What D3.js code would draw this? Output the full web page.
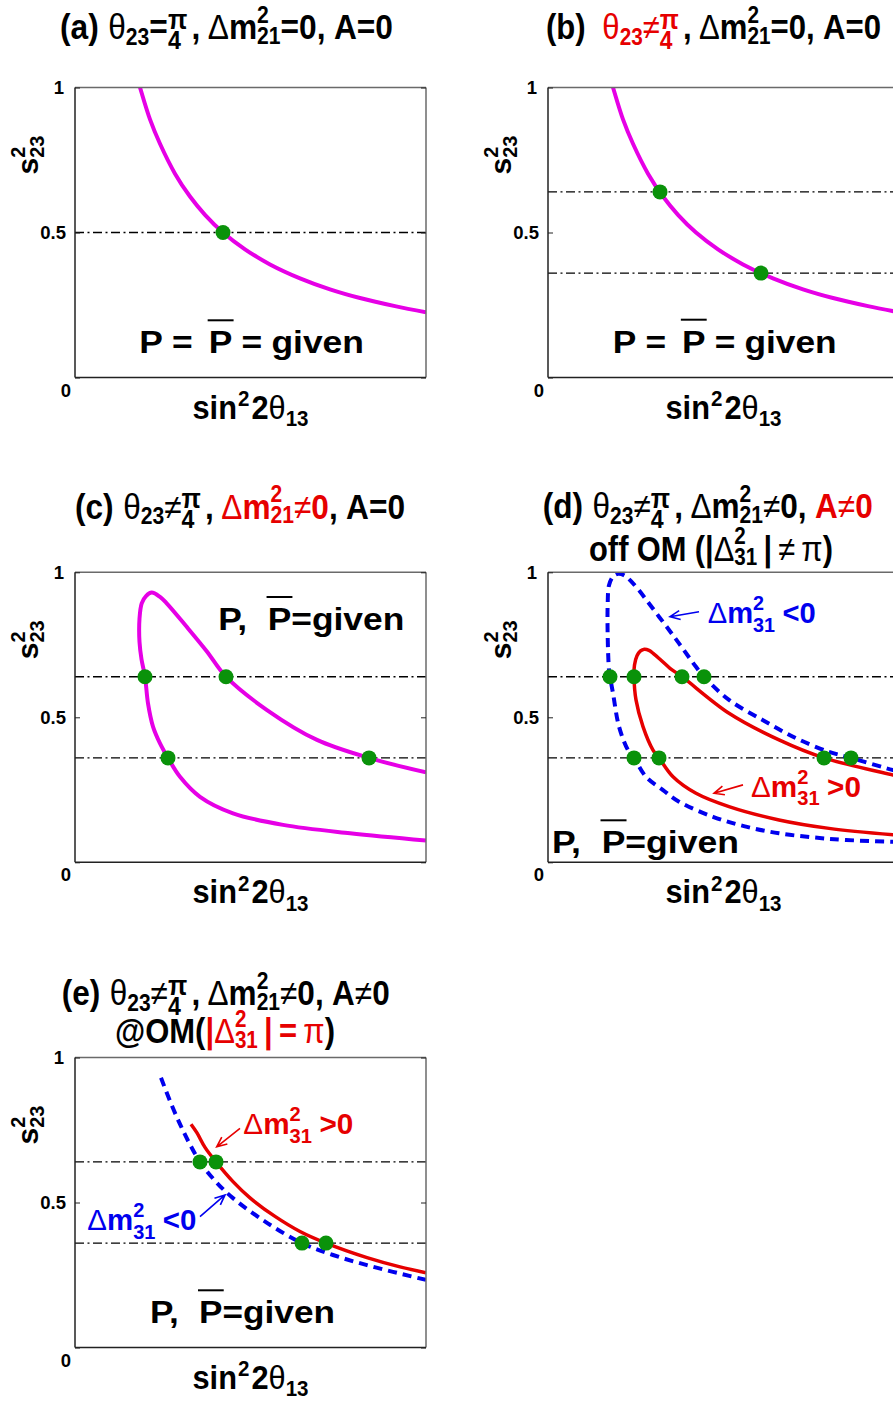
<!DOCTYPE html>
<html><head><meta charset="utf-8">
<script src="https://cdn.jsdelivr.net/npm/d3@7"></script>
<style>body{margin:0;background:#fff}svg{display:block}</style>
</head><body>
<script>
// ---------- values ----------
const yTicks = [0, 0.5, 1];
const yTickLabels = ["0", "0.5", "1"];
const octantMax = [0.5];          // theta23 = pi/4
const octantPair = [0.36, 0.64];  // theta23 != pi/4 (both octants)

// P = Pbar = given, no solar term, no matter: panels (a), (b)
const curveAB = [[0.058,1.08],[0.065,1.0],[0.075,0.89],[0.085,0.806],[0.100,0.703],[0.115,0.624],[0.130,0.561],[0.148,0.50],[0.170,0.442],[0.195,0.39],[0.225,0.342],[0.255,0.304],[0.285,0.274],[0.320,0.246],[0.351,0.225]];
const dotsA = [[0.148,0.5]];
const dotsB = [[0.112,0.64],[0.213,0.36]];

// solar term switched on: closed-loop curve, panel (c)
const curveC = [[0.351,0.075],[0.275,0.10],[0.208,0.129],[0.158,0.169],[0.125,0.226],[0.105,0.295],[0.093,0.36],[0.085,0.41],[0.078,0.468],[0.073,0.548],[0.070,0.64],[0.0665,0.70],[0.0645,0.76],[0.0645,0.84],[0.0667,0.893],[0.071,0.918],[0.0767,0.93],[0.085,0.915],[0.0917,0.893],[0.1117,0.812],[0.1317,0.728],[0.151,0.64],[0.192,0.525],[0.242,0.422],[0.294,0.36],[0.351,0.31]];
const dotsC = [[0.070,0.64],[0.151,0.64],[0.093,0.36],[0.294,0.36]];

// matter effect off the oscillation maximum, panel (d)
const curveDNormal = [[0.351,0.093],[0.281,0.117],[0.231,0.146],[0.181,0.192],[0.148,0.238],[0.125,0.295],[0.111,0.36],[0.105,0.387],[0.095,0.468],[0.088,0.56],[0.086,0.64],[0.0865,0.68],[0.089,0.712],[0.0925,0.729],[0.0963,0.735],[0.101,0.731],[0.106,0.718],[0.112,0.70],[0.122,0.669],[0.134,0.64],[0.181,0.514],[0.231,0.422],[0.276,0.36],[0.345,0.301],[0.351,0.296]];
const curveDInverted = [[0.351,0.070],[0.298,0.077],[0.265,0.086],[0.231,0.100],[0.198,0.123],[0.165,0.157],[0.131,0.209],[0.115,0.249],[0.098,0.295],[0.086,0.36],[0.080,0.387],[0.071,0.468],[0.065,0.583],[0.062,0.64],[0.061,0.663],[0.0597,0.778],[0.0597,0.893],[0.061,0.955],[0.065,0.985],[0.070,0.995],[0.076,0.99],[0.085,0.962],[0.111,0.847],[0.131,0.755],[0.148,0.674],[0.156,0.64],[0.181,0.56],[0.215,0.49],[0.248,0.428],[0.281,0.381],[0.303,0.36],[0.345,0.318],[0.351,0.313]];
const dotsD = [[0.062,0.64],[0.086,0.64],[0.134,0.64],[0.156,0.64],[0.086,0.36],[0.111,0.36],[0.276,0.36],[0.303,0.36]];

// at the oscillation maximum, panel (e)
const curveENormal = [[0.116,0.77],[0.122,0.74],[0.130,0.69],[0.141,0.64],[0.158,0.572],[0.175,0.516],[0.200,0.452],[0.225,0.40],[0.251,0.36],[0.292,0.31],[0.325,0.278],[0.351,0.258]];
const curveEInverted = [[0.086,0.93],[0.095,0.85],[0.105,0.77],[0.115,0.70],[0.125,0.64],[0.140,0.575],[0.158,0.515],[0.192,0.43],[0.227,0.36],[0.258,0.319],[0.292,0.284],[0.351,0.233]];
const dotsE = [[0.125,0.64],[0.141,0.64],[0.227,0.36],[0.251,0.36]];

// annotation arrows [x0, s0, x1(head), s1]
const arrowDInv = [0.151,0.864,0.122,0.847];
const arrowDNor = [0.195,0.267,0.166,0.238];
const arrowENor = [0.165,0.756,0.1417,0.692];
const arrowEInv = [0.125,0.451,0.150,0.526];

// ---------- styles ----------
const FONT = "'Liberation Sans', Arial, Helvetica, sans-serif";
const MAG = "#e600e6", RED = "#e60000", BLUE = "#0000ee", GREEN = "#0a920a";
const W = 893, H = 1401, PW = 351, PH = 290;

const svg = d3.select("body").append("svg").attr("width", W).attr("height", H);
const defs = svg.append("defs");

// ---------- rich text: one <text> per label, runs placed as tspans ----------
function rich(spec) {
  const g = svg.append("g");
  const runs = [];
  let cx = 0;
  const meas = svg.append("text").attr("font-family", FONT);
  const width = it => {
    meas.attr("font-size", it.s).attr("font-weight", it.g ? "normal" : "bold").text(it.t);
    return meas.node().getComputedTextLength();
  };
  const add = (it, x) => { const w = width(it); runs.push({ it, x, w }); return w; };
  for (const it of spec.items) {
    if (it.stack) cx += Math.max(...it.stack.map(s => add(s, cx))) + (it.gap || 0);
    else cx += add(it, cx) + (it.gap || 0);
  }
  meas.remove();
  const sx = spec.width ? spec.width / cx : 1;
  const sy = spec.sy || 1;
  const x0 = spec.anchor === "middle" ? spec.x - (spec.width || cx) / 2 : spec.x;
  g.attr("transform", spec.rotate
    ? `translate(${spec.x},${spec.y}) rotate(-90) scale(${sx},${sy})`
    : `translate(${x0},${spec.y}) scale(${sx},${sy})`);
  const text = g.append("text").attr("font-family", FONT);
  for (const r of runs) {
    text.append("tspan").attr("x", r.x).attr("y", r.it.dy || 0)
      .attr("font-size", r.it.s).attr("font-weight", r.it.g ? "normal" : "bold")
      .attr("fill", r.it.c || "#000").text(r.it.t);
    if (r.it.over) {
      g.append("line").attr("x1", r.x - 1).attr("x2", r.x + r.w + 1)
        .attr("y1", r.it.over).attr("y2", r.it.over)
        .attr("stroke", r.it.c || "#000").attr("stroke-width", 2);
    }
  }
  return g;
}

const B = (t, s, c, o) => Object.assign({ t, s, c }, o || {});
const Gk = (t, s, c, o) => Object.assign({ t, s, c, g: true }, o || {});
const stack = (sup, sub, s, c, gap, up, down) => ({ stack: [B(sup, s, c, { dy: up || -14 }), B(sub, s, c, { dy: down || 4 })], gap: gap || 0 });
const frac = (c, gap) => ({ stack: [B("π", 24, c, { dy: -9 }), B("4", 22, c, { dy: 8.5 })], gap: gap || 0 });

// ---------- panels ----------
function panel(p) {
  const x = d3.scaleLinear().domain([0, 0.351]).range([p.left, p.left + PW]);
  const y = d3.scaleLinear().domain([0, 1]).range([p.top + PH, p.top]);
  const clipId = "clip-" + p.id;
  defs.append("clipPath").attr("id", clipId).append("rect")
    .attr("x", p.left).attr("y", p.top).attr("width", PW).attr("height", PH);

  const g = svg.append("g");
  const plot = g.append("g").attr("clip-path", `url(#${clipId})`);

  // octant reference lines
  plot.selectAll("line.oct").data(p.octants).join("line").attr("class", "oct")
    .attr("x1", p.left).attr("x2", p.left + PW)
    .attr("y1", d => y(d)).attr("y2", d => y(d))
    .attr("stroke", "#000").attr("stroke-width", 1.4)
    .attr("stroke-dasharray", "9,3.5,2,3.5");

  const line = d3.line().x(d => x(d[0])).y(d => y(d[1])).curve(d3.curveCatmullRom.alpha(0.5));
  for (const c of p.curves) {
    plot.append("path").datum(c.data).attr("d", line)
      .attr("fill", "none").attr("stroke", c.color).attr("stroke-width", c.width)
      .attr("stroke-dasharray", c.dash || null);
  }

  // frame: left/bottom axis lines and lighter top/right
  const fr = g.append("g");
  fr.append("line").attr("x1", p.left).attr("x2", p.left + PW).attr("y1", y(1)).attr("y2", y(1)).attr("stroke", "#6a6a6a").attr("stroke-width", 1.5);
  fr.append("line").attr("x1", p.left + PW).attr("x2", p.left + PW).attr("y1", y(1)).attr("y2", y(0)).attr("stroke", "#6a6a6a").attr("stroke-width", 1.5);
  fr.append("line").attr("x1", p.left).attr("x2", p.left).attr("y1", y(1)).attr("y2", y(0)).attr("stroke", "#222").attr("stroke-width", 1.5);
  fr.append("line").attr("x1", p.left).attr("x2", p.left + PW).attr("y1", y(0)).attr("y2", y(0)).attr("stroke", "#222").attr("stroke-width", 1.5);

  // y axis ticks (inward on both sides)
  const yAxisL = d3.axisRight(y).tickValues(yTicks).tickSize(5).tickFormat("");
  const yAxisR = d3.axisLeft(y).tickValues(yTicks).tickSize(5).tickFormat("");
  g.append("g").attr("transform", `translate(${p.left},0)`).call(yAxisL).call(s => s.select(".domain").remove()).selectAll("line").attr("stroke", "#222");
  g.append("g").attr("transform", `translate(${p.left + PW},0)`).call(yAxisR).call(s => s.select(".domain").remove()).selectAll("line").attr("stroke", "#222");

  // tick labels
  const off = { "0": [-4, 19], "0.5": [-9, 6.5], "1": [-11, 6.5] };
  g.selectAll("text.yl").data(yTicks).join("text").attr("class", "yl")
    .attr("x", (d, i) => p.left + off[yTickLabels[i]][0])
    .attr("y", (d, i) => y(d) + off[yTickLabels[i]][1])
    .attr("text-anchor", "end").attr("font-family", FONT).attr("font-weight", "bold")
    .attr("font-size", 18.5).text((d, i) => yTickLabels[i]);

  // markers
  g.selectAll("circle").data(p.dots).join("circle")
    .attr("cx", d => x(d[0])).attr("cy", d => y(d[1])).attr("r", 7.5).attr("fill", GREEN);

  // arrows
  for (const a of p.arrows || []) {
    const [x0, y0, x1, y1] = [x(a.d[0]), y(a.d[1]), x(a.d[2]), y(a.d[3])];
    const ang = Math.atan2(y0 - y1, x0 - x1), L = 11, sp = 0.42;
    g.append("path")
      .attr("d", `M${x0},${y0}L${x1},${y1}M${x1 + L * Math.cos(ang + sp)},${y1 + L * Math.sin(ang + sp)}L${x1},${y1}L${x1 + L * Math.cos(ang - sp)},${y1 + L * Math.sin(ang - sp)}`)
      .attr("fill", "none").attr("stroke", a.color).attr("stroke-width", 1.6);
  }

  // axis titles
  rich({ x: p.left + PW / 2, y: p.top + PH + 41, anchor: "middle", width: 116, sy: 1.1, items: [
    B("sin", 30, null, { gap: 1 }), B("2", 20, null, { dy: -11, gap: 2 }), B("2", 30), Gk("θ", 30), B("13", 20, null, { dy: 7 })
  ] });
  rich({ x: p.left - 37, y: p.top + 87, rotate: true, items: [
    B("s", 30), stack("2", "23", 20, null, 0, -13, 6)
  ] });
  return { x, y };
}

panel({ id: "a", left: 75, top: 87.5, octants: octantMax,
  curves: [{ data: curveAB, color: MAG, width: 4 }], dots: dotsA });
panel({ id: "b", left: 548, top: 87.5, octants: octantPair,
  curves: [{ data: curveAB, color: MAG, width: 4 }], dots: dotsB });
panel({ id: "c", left: 75, top: 572.3, octants: octantPair,
  curves: [{ data: curveC, color: MAG, width: 4 }], dots: dotsC });
panel({ id: "d", left: 548, top: 572.3, octants: octantPair,
  curves: [{ data: curveDInverted, color: BLUE, width: 4, dash: "9,6" }, { data: curveDNormal, color: RED, width: 3.5 }],
  dots: dotsD, arrows: [{ d: arrowDInv, color: BLUE }, { d: arrowDNor, color: RED }] });
panel({ id: "e", left: 75, top: 1057.5, octants: octantPair,
  curves: [{ data: curveEInverted, color: BLUE, width: 4, dash: "9,6" }, { data: curveENormal, color: RED, width: 3.5 }],
  dots: dotsE, arrows: [{ d: arrowENor, color: RED }, { d: arrowEInv, color: BLUE }] });

// ---------- titles ----------
const T = 30, S = 20, SY = 1.16;
rich({ x: 60, y: 39, width: 333, sy: SY, items: [
  B("(a)", T, null, { gap: 9 }), Gk("θ", T), B("23", S, null, { dy: 5 }), B("=", T), frac(null, 4),
  B(",", T, null, { gap: 7 }), Gk("Δ", T), B("m", T), stack("2", "21", S), B("=0,", T, null, { gap: 8 }), B("A=0", T)
] });
rich({ x: 546, y: 39, width: 335, sy: SY, items: [
  B("(b)", T, null, { gap: 16 }), Gk("θ", T, RED), B("23", S, RED, { dy: 5 }), Gk("≠", T, RED), frac(RED, 4),
  B(",", T, null, { gap: 7 }), Gk("Δ", T), B("m", T), stack("2", "21", S), B("=0,", T, null, { gap: 8 }), B("A=0", T)
] });
rich({ x: 75, y: 518.5, width: 330, sy: SY, items: [
  B("(c)", T, null, { gap: 9 }), Gk("θ", T), B("23", S, null, { dy: 5 }), Gk("≠", T), frac(null, 4),
  B(",", T, null, { gap: 7 }), Gk("Δ", T, RED), B("m", T, RED), stack("2", "21", S, RED), Gk("≠", T, RED), B("0", T, RED),
  B(",", T, null, { gap: 8 }), B("A=0", T)
] });
rich({ x: 542.7, y: 518, width: 330, sy: SY, items: [
  B("(d)", T, null, { gap: 9 }), Gk("θ", T), B("23", S, null, { dy: 5 }), Gk("≠", T), frac(null, 4),
  B(",", T, null, { gap: 7 }), Gk("Δ", T), B("m", T), stack("2", "21", S), Gk("≠", T), B("0,", T, null, { gap: 8 }),
  B("A", T, RED), Gk("≠", T, RED), B("0", T, RED)
] });
rich({ x: 589, y: 560.7, width: 244, sy: SY, items: [
  B("off", T, null, { gap: 8 }), B("OM", T, null, { gap: 8 }), B("(|", T), Gk("Δ", T), stack("2", "31", S, null, 6),
  B("|", T, null, { gap: 6 }), Gk("≠", T, null, { gap: 6 }), Gk("π", T), B(")", T)
] });
rich({ x: 61.7, y: 1005, width: 328, sy: SY, items: [
  B("(e)", T, null, { gap: 9 }), Gk("θ", T), B("23", S, null, { dy: 5 }), Gk("≠", T), frac(null, 4),
  B(",", T, null, { gap: 7 }), Gk("Δ", T), B("m", T), stack("2", "21", S), Gk("≠", T), B("0,", T, null, { gap: 8 }),
  B("A", T), Gk("≠", T), B("0", T)
] });
rich({ x: 115, y: 1043, width: 220, sy: SY, items: [
  B("@OM(", T), B("|", T, RED), Gk("Δ", T, RED), stack("2", "31", S, RED, 6), B("|", T, RED, { gap: 6 }),
  B("=", T, RED, { gap: 6 }), Gk("π", T, RED), B(")", T)
] });

// ---------- "given" labels ----------
const PS = 31;
const givenEq = () => [B("P", PS, null, { gap: 8 }), B("=", PS, null, { gap: 14 }), B("P", PS, null, { over: -33, gap: 8 }), B("=", PS, null, { gap: 8 }), B("given", PS)];
const givenComma = () => [B("P,", PS, null, { gap: 18 }), B("P", PS, null, { over: -33 }), B("=given", PS)];
rich({ x: 139.3, y: 353.3, width: 224.7, items: givenEq() });
rich({ x: 612.7, y: 352.7, width: 224, items: givenEq() });
rich({ x: 218.3, y: 630, width: 186, items: givenComma() });
rich({ x: 552, y: 853.3, width: 187, items: givenComma() });
rich({ x: 150, y: 1323.3, width: 185, items: givenComma() });

// ---------- mass ordering labels ----------
const AS = 28, AS2 = 19;
const dm31 = (c, sign) => [Gk("Δ", AS, c), B("m", AS, c), { stack: [B("2", AS2, c, { dy: -12 }), B("31", AS2, c, { dy: 8 })], gap: 7 }, B(sign, AS, c)];
rich({ x: 707.7, y: 623.3, width: 108, sy: 1.08, items: dm31(BLUE, "<0") });
rich({ x: 751, y: 796.7, width: 110, sy: 1.08, items: dm31(RED, ">0") });
rich({ x: 243.3, y: 1134.3, width: 110, sy: 1.08, items: dm31(RED, ">0") });
rich({ x: 87.3, y: 1230, width: 109, sy: 1.08, items: dm31(BLUE, "<0") });
</script>
</body></html>
